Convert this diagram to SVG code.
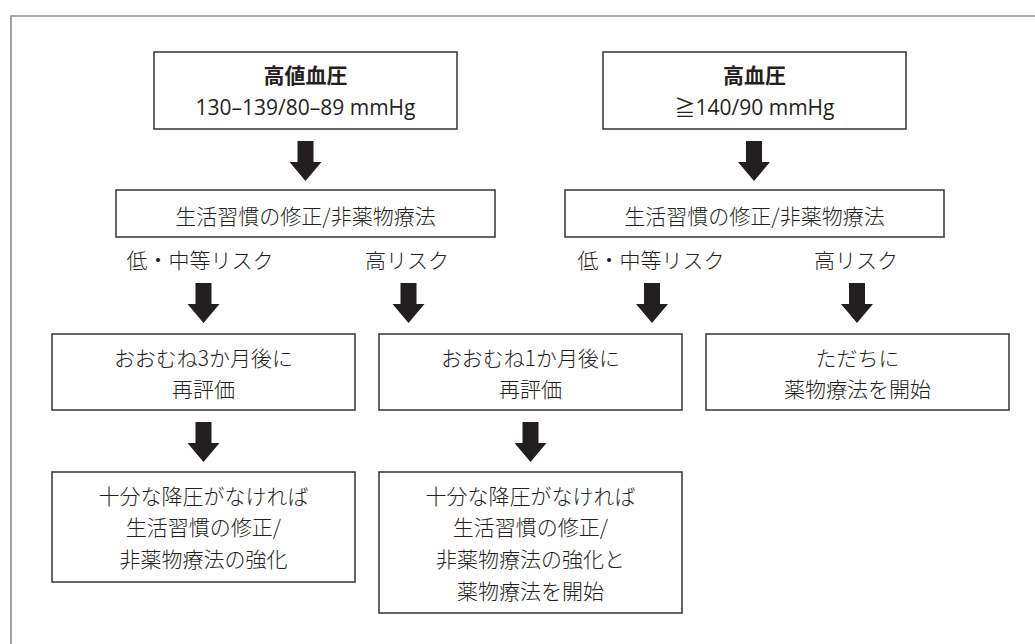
<svg xmlns="http://www.w3.org/2000/svg" xmlns:xlink="http://www.w3.org/1999/xlink" width="1035" height="644" viewBox="0 0 1035 644">
<style>
.box{fill:#fff;stroke:#333;stroke-width:1.5}
.t{font-family:"Noto Sans CJK JP","Noto Sans",sans-serif;font-size:21px;font-weight:300;fill:#231f20;text-anchor:middle}
.lat{font-family:"Open Sans","Noto Sans CJK JP",sans-serif;font-weight:400}
.b{font-weight:bold}
.arr{fill:#231f20}
</style>
<defs>
<path id="arr" d="M-8,0 h16 v21 h8 l-16,19 l-16,-19 h8 z"/>
</defs>
<rect width="1035" height="644" fill="#fff"/>
<path d="M11,650 V16 H1040" fill="none" stroke="#8c8c8c" stroke-width="1.6"/>
<g id="connectors" class="arr">
<use xlink:href="#arr" x="305.5" y="141"/>
<use xlink:href="#arr" x="754" y="141"/>
<use xlink:href="#arr" x="203.5" y="283"/>
<use xlink:href="#arr" x="408.5" y="283"/>
<use xlink:href="#arr" x="652" y="283"/>
<use xlink:href="#arr" x="857" y="283"/>
<use xlink:href="#arr" x="203.5" y="422"/>
<use xlink:href="#arr" x="530.5" y="422"/>
</g>
<g id="n1">
<rect class="box" x="154" y="52" width="303" height="77"/>
<text class="t b" x="305.5" y="83">高値血圧</text>
<text class="t lat" x="305.5" y="115">130–139/80–89 mmHg</text>
</g>
<g id="n2">
<rect class="box" x="603" y="52" width="303" height="77"/>
<text class="t b" x="754.5" y="83">高血圧</text>
<text class="t lat" x="754.5" y="115">≧140/90 mmHg</text>
</g>
<g id="n3">
<rect class="box" x="116" y="190" width="379" height="47"/>
<text class="t" x="305.5" y="224">生活習慣の修正/非薬物療法</text>
</g>
<g id="n4">
<rect class="box" x="565" y="190" width="379" height="47"/>
<text class="t" x="754.5" y="224">生活習慣の修正/非薬物療法</text>
</g>
<g id="labels">
<text class="t" x="200" y="268">低・中等リスク</text>
<text class="t" x="407" y="268">高リスク</text>
<text class="t" x="651" y="268">低・中等リスク</text>
<text class="t" x="856" y="268">高リスク</text>
</g>
<g id="n5">
<rect class="box" x="52" y="334" width="303" height="76"/>
<text class="t" x="203.5" y="365.5">おおむね3か月後に</text>
<text class="t" x="203.5" y="396.5">再評価</text>
</g>
<g id="n6">
<rect class="box" x="379" y="334" width="303" height="76"/>
<text class="t" x="530.5" y="365.5">おおむね1か月後に</text>
<text class="t" x="530.5" y="396.5">再評価</text>
</g>
<g id="n7">
<rect class="box" x="706" y="334" width="303" height="76"/>
<text class="t" x="857.5" y="365.5">ただちに</text>
<text class="t" x="857.5" y="396.5">薬物療法を開始</text>
</g>
<g id="n8">
<rect class="box" x="52" y="472" width="303" height="110"/>
<text class="t" x="203.5" y="504">十分な降圧がなければ</text>
<text class="t" x="203.5" y="535">生活習慣の修正/</text>
<text class="t" x="203.5" y="567">非薬物療法の強化</text>
</g>
<g id="n9">
<rect class="box" x="379" y="472" width="303" height="141"/>
<text class="t" x="530.5" y="504">十分な降圧がなければ</text>
<text class="t" x="530.5" y="535">生活習慣の修正/</text>
<text class="t" x="530.5" y="567">非薬物療法の強化と</text>
<text class="t" x="530.5" y="599">薬物療法を開始</text>
</g>
</svg>
